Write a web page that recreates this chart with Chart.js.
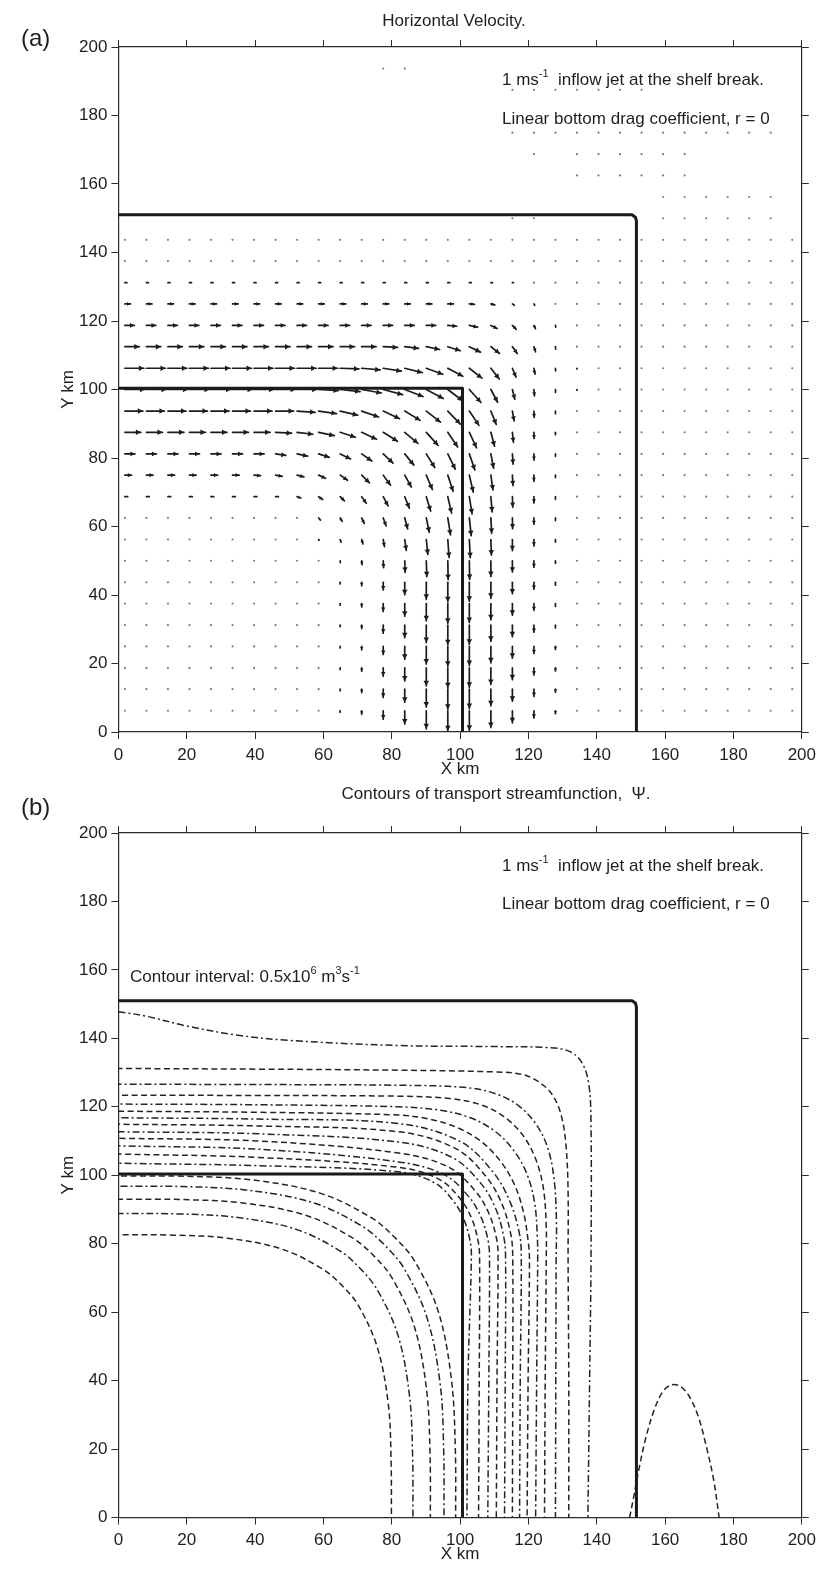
<!DOCTYPE html>
<html>
<head>
<meta charset="utf-8">
<title>Inflow jet at the shelf break</title>
<script src="https://cdn.jsdelivr.net/npm/chart.js@4.4.1/dist/chart.umd.min.js"></script>
<style>
  body { margin: 0; background: #fff; }
  canvas { position: absolute; left: 0; }
  #velChart { top: 0; }
  #psiChart { top: 785px; }
</style>
</head>
<body>
<canvas id="velChart" width="822" height="785"></canvas>
<canvas id="psiChart" width="822" height="785"></canvas>
<script>
const FONT = "'Liberation Sans', Arial, sans-serif";
const tickValues = [0, 20, 40, 60, 80, 100, 120, 140, 160, 180, 200];

// model grid (km)
const xKm = [1.9, 8.2, 14.5, 20.8, 27.1, 33.4, 39.7, 46.0, 52.3, 58.6, 64.9, 71.2, 77.5, 83.8, 90.1, 96.4,
             102.7, 109.0, 115.3, 121.6, 127.9, 134.2, 140.5, 146.8, 153.1, 159.4, 165.7, 172.0, 178.3, 184.6, 190.9, 197.2];
const yKm = [6.2, 12.5, 18.7, 25.0, 31.2, 37.5, 43.7, 50.0, 56.2, 62.5, 68.7, 75.0, 81.2, 87.5, 93.7, 100.0,
             106.2, 112.5, 118.7, 125.0, 131.2, 137.5, 143.7, 150.0, 156.2, 162.5, 168.7, 175.0, 181.2, 187.5, 193.7];

// speed (1 = jet core, ~1 m/s), one row per yKm, bottom first. -1 = nothing drawn, 0 = dot only
const speedRows = [
  [0,0,0,0,0,0,0,0,0,0,.08,.17,.42,.66,.9,1,.97,.83,.6,.36,.15,0,0,0,0,0,0,0,0,0,0,0],
  [0,0,0,0,0,0,0,0,0,0,.08,.17,.41,.65,.89,1,.97,.83,.6,.36,.15,0,0,0,0,0,0,0,0,0,0,0],
  [0,0,0,0,0,0,0,0,0,0,.08,.17,.41,.65,.89,.99,.96,.82,.59,.35,.15,0,0,0,0,0,0,0,0,0,0,0],
  [0,0,0,0,0,0,0,0,0,0,.08,.17,.4,.64,.88,.99,.96,.82,.59,.35,.15,0,0,0,0,0,0,0,0,0,0,0],
  [0,0,0,0,0,0,0,0,0,0,.08,.17,.4,.63,.87,.98,.95,.81,.58,.35,.14,0,0,0,0,0,0,0,0,0,0,0],
  [0,0,0,0,0,0,0,0,0,0,.08,.17,.39,.63,.86,.98,.95,.81,.58,.34,.14,0,0,0,0,0,0,0,0,0,0,0],
  [0,0,0,0,0,0,0,0,0,0,.08,.17,.38,.62,.85,.97,.94,.8,.57,.34,.14,0,0,0,0,0,0,0,0,0,0,0],
  [0,0,0,0,0,0,0,0,0,0,.1,.2,.35,.58,.8,.94,.93,.79,.56,.33,.13,0,0,0,0,0,0,0,0,0,0,0],
  [0,0,0,0,0,0,0,0,0,.05,.14,.23,.36,.55,.75,.9,.91,.78,.55,.32,.13,0,0,0,0,0,0,0,0,0,0,0],
  [0,0,0,0,0,0,0,0,0,.14,.2,.3,.42,.57,.73,.86,.89,.77,.54,.32,.13,0,0,0,0,0,0,0,0,0,0,0],
  [.14,.14,.14,.14,.14,.14,.14,.14,.2,.25,.3,.4,.52,.62,.75,.84,.87,.76,.53,.31,.13,0,0,0,0,0,0,0,0,0,0,0],
  [.33,.33,.33,.33,.33,.33,.33,.34,.35,.38,.45,.55,.62,.68,.78,.85,.87,.75,.52,.31,.12,0,0,0,0,0,0,0,0,0,0,0],
  [.5,.5,.5,.5,.5,.5,.5,.52,.54,.56,.58,.62,.67,.72,.8,.85,.85,.73,.51,.31,.12,0,0,0,0,0,0,0,0,0,0,0],
  [.8,.8,.8,.8,.8,.8,.8,.8,.8,.8,.8,.82,.84,.86,.88,.88,.85,.72,.5,.31,.12,0,0,0,0,0,0,0,0,0,0,0],
  [.9,.9,.9,.9,.9,.9,.9,.9,.9,.9,.9,.9,.9,.9,.9,.9,.86,.72,.5,.32,.13,0,0,0,0,0,0,0,0,0,0,0],
  [1,1,1,1,1,1,1,1,1,1,1,1,1,.98,.96,.93,.87,.72,.5,.32,.14,.04,0,0,0,0,0,0,0,0,0,0],
  [.95,.95,.95,.95,.95,.95,.95,.95,.95,.95,.94,.93,.92,.9,.88,.85,.8,.68,.48,.3,.13,.04,0,0,0,0,0,0,0,0,0,0],
  [.72,.72,.72,.72,.72,.72,.72,.72,.72,.72,.72,.72,.72,.7,.68,.66,.62,.55,.42,.27,.12,0,0,0,0,0,0,0,0,0,0,0],
  [.47,.47,.47,.47,.47,.47,.47,.47,.47,.47,.47,.47,.47,.47,.47,.45,.42,.35,.27,.18,.08,0,0,0,0,0,0,0,0,0,0,0],
  [.28,.28,.28,.28,.28,.28,.28,.28,.28,.28,.28,.28,.28,.28,.28,.28,.26,.2,.12,.08,0,0,0,0,0,0,0,0,0,0,0,0],
  [.1,.1,.1,.1,.1,.1,.1,.1,.1,.1,.1,.1,.1,.1,.1,.1,.1,.08,.05,0,0,0,0,0,0,0,0,0,0,0,0,0],
  [0,0,0,0,0,0,0,0,0,0,0,0,0,0,0,0,0,0,0,0,0,0,0,0,0,0,0,0,0,0,0,0],
  [0,0,0,0,0,0,0,0,0,0,0,0,0,0,0,0,0,0,0,0,0,0,0,0,0,0,0,0,0,0,0,0],
  [-1,-1,-1,-1,-1,-1,-1,-1,-1,-1,-1,-1,-1,-1,-1,-1,-1,-1,0,0,-1,-1,-1,-1,-1,0,0,0,0,0,0,-1],
  [-1,-1,-1,-1,-1,-1,-1,-1,-1,-1,-1,-1,-1,-1,-1,-1,-1,-1,-1,-1,-1,-1,-1,-1,-1,0,0,0,0,0,0,-1],
  [-1,-1,-1,-1,-1,-1,-1,-1,-1,-1,-1,-1,-1,-1,-1,-1,-1,-1,-1,-1,-1,0,0,0,0,0,0,-1,-1,-1,-1,-1],
  [-1,-1,-1,-1,-1,-1,-1,-1,-1,-1,-1,-1,-1,-1,-1,-1,-1,-1,-1,0,-1,0,0,0,0,0,0,-1,-1,-1,-1,-1],
  [-1,-1,-1,-1,-1,-1,-1,-1,-1,-1,-1,-1,-1,-1,-1,-1,-1,-1,0,0,0,0,0,0,0,0,0,0,0,0,0,-1],
  [-1,-1,-1,-1,-1,-1,-1,-1,-1,-1,-1,-1,-1,-1,-1,-1,-1,-1,-1,-1,-1,-1,-1,-1,-1,-1,-1,-1,-1,-1,-1,-1],
  [-1,-1,-1,-1,-1,-1,-1,-1,-1,-1,-1,-1,-1,-1,-1,-1,-1,-1,0,0,0,0,0,0,0,-1,-1,-1,-1,-1,-1,-1],
  [-1,-1,-1,-1,-1,-1,-1,-1,-1,-1,-1,-1,0,0,-1,-1,-1,-1,-1,-1,-1,-1,-1,-1,-1,-1,-1,-1,-1,-1,-1,-1]
];

// direction in degrees below east (90 = southward), bottom rows first; rows above 131 km are all eastward
const angleRows = [
  [0,0,0,0,0,0,0,0,0,0,90,90,90,90,90,90,90,90,90,90,90,0,0,0,0,0,0,0,0,0,0,0],
  [0,0,0,0,0,0,0,0,0,0,90,90,90,90,90,90,90,90,90,90,90,0,0,0,0,0,0,0,0,0,0,0],
  [0,0,0,0,0,0,0,0,0,0,90,90,90,90,90,90,90,90,90,90,90,0,0,0,0,0,0,0,0,0,0,0],
  [0,0,0,0,0,0,0,0,0,0,90,90,90,90,90,90,90,90,90,90,90,0,0,0,0,0,0,0,0,0,0,0],
  [0,0,0,0,0,0,0,0,0,0,90,90,90,90,90,90,90,90,90,90,90,0,0,0,0,0,0,0,0,0,0,0],
  [0,0,0,0,0,0,0,0,0,0,90,90,90,90,90,90,90,90,90,90,90,0,0,0,0,0,0,0,0,0,0,0],
  [0,0,0,0,0,0,0,0,0,0,90,90,90,90,90,90,90,90,90,90,90,0,0,0,0,0,0,0,0,0,0,0],
  [0,0,0,0,0,0,0,0,0,0,85,85,87,88,88,89,89,90,90,90,90,0,0,0,0,0,0,0,0,0,0,0],
  [0,0,0,0,0,0,0,0,0,60,70,75,80,82,84,86,87,88,90,90,90,0,0,0,0,0,0,0,0,0,0,0],
  [0,0,0,0,0,0,0,0,0,50,60,65,70,75,78,81,84,87,89,90,90,0,0,0,0,0,0,0,0,0,0,0],
  [0,0,0,0,0,0,0,0,20,35,45,55,62,68,73,77,81,85,88,90,90,0,0,0,0,0,0,0,0,0,0,0],
  [0,0,0,0,0,0,5,10,15,25,35,45,54,61,67,72,77,82,87,90,90,0,0,0,0,0,0,0,0,0,0,0],
  [0,0,0,0,0,0,0,8,12,18,26,35,43,51,58,64,71,79,86,89,90,0,0,0,0,0,0,0,0,0,0,0],
  [0,0,0,0,0,0,0,3,7,12,18,25,32,40,48,56,65,75,84,88,90,0,0,0,0,0,0,0,0,0,0,0],
  [0,0,0,0,0,0,0,0,4,8,13,19,25,31,38,46,56,68,80,87,90,0,0,0,0,0,0,0,0,0,0,0],
  [0,0,0,0,0,0,0,0,0,3,6,10,15,21,28,37,48,62,76,85,89,90,0,0,0,0,0,0,0,0,0,0],
  [0,0,0,0,0,0,0,0,0,0,2,5,9,14,20,28,38,52,68,80,87,90,0,0,0,0,0,0,0,0,0,0],
  [0,0,0,0,0,0,0,0,0,0,0,0,3,7,12,18,26,38,55,72,85,0,0,0,0,0,0,0,0,0,0,0],
  [0,0,0,0,0,0,0,0,0,0,0,0,0,0,0,5,12,25,45,65,80,0,0,0,0,0,0,0,0,0,0,0],
  [0,0,0,0,0,0,0,0,0,0,0,0,0,0,0,0,5,15,35,60,0,0,0,0,0,0,0,0,0,0,0,0]
];

const ARROW_KM = 5.85;   // km of arrow per unit speed

// shelf break (100 km) and outer shelf edge (151 km)
const shelfInner = [[0, 100.4], [100.7, 100.4], [100.7, 0]];
const shelfOuter = [[0, 151], [150.3, 151], [151.3, 150.3], [151.6, 149.2], [151.6, 0]];

// streamfunction contours, [x km, y km]
const psiLines = [
  [[0,147.8],[8,146.5],[20,143.6],[35,140.9],[50,139.4],[82,137.9],[110,137.6],[126,137.3],[132,136.2],[135.6,133],[137.6,127],[138.3,116],[138.3,75],[137.9,40],[137.4,0]],
  [[0,131.2],[41,131],[82,130.7],[110,130.2],[118,129.5],[123,127.3],[127,123.5],[129.6,117.5],[131,108.5],[131.6,95],[131.6,75],[131.8,40],[131.8,0]],
  [[0,126.6],[41,126.5],[82,126.3],[102,125.6],[111,123.6],[117.5,120],[122.5,114.5],[125.8,107.5],[127.6,98],[128.2,86],[128.1,75],[128,40],[127.9,0]],
  [[0,123.4],[41,123.3],[82,123.1],[97,122.4],[106,120.6],[113,117],[118.5,111.5],[122.2,104.5],[124.4,96],[125.2,85],[125.2,75],[124.9,40],[124.7,0]],
  [[0,120.8],[41,120.6],[82,120],[94,119],[103,116.8],[110,113],[115.5,107.5],[119.5,100.5],[121.8,92],[122.6,82],[122.7,75],[122.4,40],[122.1,0]],
  [[0,118.7],[41,118.4],[82,117.6],[91,116.4],[99,114],[106,110],[111.5,104.5],[115.8,97.5],[118.6,89],[120,80],[120.3,75],[119.9,40],[119.6,0]],
  [[0,116.8],[41,116.4],[82,115.1],[100,109.9],[109.5,101.1],[114.5,92.5],[117.4,82.8],[117.9,76],[117.6,40],[117.4,0]],
  [[0,114.9],[41,114.4],[82,112.7],[98.7,107.8],[107.6,99.6],[112.3,91.5],[114.9,82.4],[115.4,76],[115.4,40],[115.3,0]],
  [[0,112.7],[41,112.1],[82,109.7],[97.7,105.2],[106,97.7],[110.4,90.3],[112.8,81.9],[113.3,76],[113.2,40],[113,0]],
  [[0,110.8],[41,110],[82,106.5],[96.6,102.4],[104.3,95.6],[108.4,88.9],[110.7,81.3],[111.1,76],[110.8,40],[110.6,0]],
  [[0,108.6],[41,107.6],[82,103.9],[95.3,100.2],[102.4,93.9],[106.1,87.8],[108.2,80.9],[108.6,76],[108.4,40],[108.1,0]],
  [[0,106.2],[41,105.2],[82,102.3],[93.9,98.8],[100.2,92.9],[103.5,87.1],[105.3,80.6],[105.7,76],[105.6,40],[105.4,0]],
  [[0,103.5],[41,102.8],[82,101],[92.7,97.7],[98.3,92.1],[101.3,86.6],[103,80.4],[103.3,76],[102.3,40],[102,0]],
  [[0,99.8],[19.7,99.7],[39.5,98.6],[59.2,94.7],[74,87.6],[80.9,81.8],[86.7,74.9],[93.7,59.9],[97.5,39.9],[98.6,20],[98.7,0]],
  [[0,96.8],[19,96.7],[38.1,95.6],[57.2,91.9],[71.5,85],[78.1,79.4],[83.7,72.6],[90.4,58.1],[94.2,38.7],[95.2,19.4],[95.3,0]],
  [[0,93],[18.3,92.9],[36.5,91.9],[54.8,88.3],[68.5,81.7],[74.9,76.3],[80.2,69.8],[86.6,55.8],[90.2,37.2],[91.2,18.6],[91.3,0]],
  [[0,88.8],[17.2,88.7],[34.5,87.7],[51.7,84.3],[64.7,78],[70.7,72.8],[75.7,66.6],[81.8,53.3],[85.2,35.5],[86.1,17.8],[86.2,0]],
  [[0,82.6],[16,82.5],[32,81.6],[47.9,78.4],[59.9,72.5],[65.5,67.7],[70.2,62],[75.8,49.6],[79,33],[79.8,16.5],[79.9,0]]
];
const psiHump = [[149.6,0],[150.8,6],[152.3,14],[154.4,23.5],[157,32],[159.5,37],[162,38.8],[164.5,38.3],[167,35.5],[169.7,29.5],[172,21],[174.2,11],[175.8,0]];

Chart.defaults.font.family = FONT;
Chart.defaults.font.size = 17;
Chart.defaults.color = '#1e1e1e';

const toXY = pts => pts.map(([x, y]) => ({x, y}));

// build the vector field
const arrowPts = [], dotPts = [];
speedRows.forEach((row, j) => row.forEach((s, i) => {
    if (s < 0) return;
    if (s === 0) { dotPts.push({x: xKm[i], y: yKm[j]}); return; }
    const a = (angleRows[j] ? angleRows[j][i] : 0) * Math.PI / 180;
    arrowPts.push({x: xKm[i], y: yKm[j], u: s * Math.cos(a), v: -s * Math.sin(a)});
}));

function axisScale(position, labels, extra) {
    return Object.assign({
        type: 'linear', position, min: 0, max: 200,
        afterBuildTicks: s => { s.ticks = tickValues.map(v => ({value: v})); },
        grid: {drawOnChartArea: false, drawTicks: true, tickLength: 7, color: '#2b2b2b', lineWidth: 1},
        border: {display: true, color: '#2b2b2b', width: 1.2},
        ticks: {display: labels, padding: position === 'left' ? 4 : 6, color: '#1e1e1e', maxRotation: 0, autoSkip: false}
    }, extra);
}

function panelOptions(padTop, xHeight) {
    return {
        responsive: false, animation: false, devicePixelRatio: 1,
        layout: {padding: {top: padTop, left: 52, right: 0, bottom: 2}},
        plugins: {legend: {display: false}, tooltip: {enabled: false}},
        scales: {
            x: axisScale('bottom', true, {
                title: {display: true, text: 'X km', color: '#1e1e1e', padding: {top: 0, bottom: 3}},
                afterFit: s => { s.height = xHeight; }
            }),
            x2: axisScale('top', false, {afterFit: s => { s.height = 10; }}),
            y: axisScale('left', true, {
                title: {display: true, text: 'Y km', color: '#1e1e1e', padding: {top: 6, bottom: 0}},
                afterFit: s => { s.width = 66.4; }
            }),
            y2: axisScale('right', false, {afterFit: s => { s.width = 19; }})
        }
    };
}

function shelfSets() {
    return [shelfInner, shelfOuter].map(p => ({
        data: toXY(p), showLine: true, borderColor: '#1a1a1a', borderWidth: 3,
        pointRadius: 0, tension: 0, borderJoinStyle: 'round'
    }));
}

// free text, with simple superscripts
function textPlugin(items) {
    return {
        id: 'panelText',
        afterDraw(chart) {
            const ctx = chart.ctx;
            ctx.save();
            ctx.fillStyle = '#1e1e1e';
            ctx.textBaseline = 'middle';
            ctx.textAlign = 'left';
            items.forEach(item => {
                const size = item.size || 17;
                const segs = typeof item.text === 'string' ? [{t: item.text}] : item.text;
                const fontOf = s => (s.sup ? Math.round(size * 0.66) : size) + 'px ' + FONT;
                let w = 0;
                segs.forEach(s => { ctx.font = fontOf(s); w += ctx.measureText(s.t).width; });
                let x = item.align === 'center' ? item.x - w / 2 : item.x;
                segs.forEach(s => {
                    ctx.font = fontOf(s);
                    ctx.fillText(s.t, x, item.y - (s.sup ? size * 0.38 : 0));
                    x += ctx.measureText(s.t).width;
                });
            });
            ctx.restore();
        }
    };
}

const jetNote = [{t: '1 ms'}, {t: '-1', sup: true}, {t: '  inflow jet at the shelf break.'}];
const dragNote = 'Linear bottom drag coefficient, r = 0';

// quiver arrows drawn through the chart scales
const quiverPlugin = {
    id: 'quiver',
    afterDatasetsDraw(chart) {
        const {ctx, scales: {x, y}} = chart;
        ctx.save();
        ctx.strokeStyle = '#1c1c1c';
        ctx.fillStyle = '#1c1c1c';
        ctx.lineWidth = 1.7;
        ctx.lineCap = 'round';
        arrowPts.forEach(p => {
            const x0 = x.getPixelForValue(p.x), y0 = y.getPixelForValue(p.y);
            const x1 = x.getPixelForValue(p.x + p.u * ARROW_KM);
            const y1 = y.getPixelForValue(p.y + p.v * ARROW_KM);
            const dx = x1 - x0, dy = y1 - y0, len = Math.hypot(dx, dy);
            ctx.beginPath();
            ctx.moveTo(x0, y0);
            ctx.lineTo(x1, y1);
            ctx.stroke();
            if (len < 3) return;
            const h = Math.min(5, 0.25 * len + 2), w = h * 0.55;
            const ux = dx / len, uy = dy / len;
            ctx.beginPath();
            ctx.moveTo(x1, y1);
            ctx.lineTo(x1 - ux * h - uy * w, y1 - uy * h + ux * w);
            ctx.lineTo(x1 - ux * h + uy * w, y1 - uy * h - ux * w);
            ctx.closePath();
            ctx.fill();
        });
        ctx.restore();
    }
};

new Chart(document.getElementById('velChart'), {
    type: 'scatter',
    data: {
        datasets: [
            ...shelfSets(),
            {data: dotPts, pointRadius: 1.1, pointBackgroundColor: '#7d7d7d', pointBorderWidth: 0},
            {data: arrowPts, pointRadius: 0}
        ]
    },
    options: panelOptions(37, 51),
    plugins: [quiverPlugin, textPlugin([
        {x: 21, y: 39, text: '(a)', size: 24},
        {x: 454, y: 21, text: 'Horizontal Velocity.', align: 'center'},
        {x: 502, y: 80, text: jetNote},
        {x: 502, y: 119, text: dragNote}
    ])]
});

const dashStyles = [[6, 3.5], [7, 3, 2, 3]];
const psiSets = psiLines.map((line, k) => ({
    data: toXY(line), showLine: true, pointRadius: 0, tension: 0.35,
    borderColor: '#242424', borderWidth: 1.5,
    borderDash: dashStyles[(k + 1) % 2], borderDashOffset: k * 2
}));
psiSets.push({
    data: toXY(psiHump), showLine: true, pointRadius: 0, tension: 0.35,
    borderColor: '#242424', borderWidth: 1.5, borderDash: dashStyles[0]
});

new Chart(document.getElementById('psiChart'), {
    type: 'scatter',
    data: {datasets: [...shelfSets(), ...psiSets]},
    options: panelOptions(38, 50.5),
    plugins: [textPlugin([
        {x: 21, y: 23, text: '(b)', size: 24},
        {x: 496, y: 9, text: 'Contours of transport streamfunction,  \u03A8.', align: 'center'},
        {x: 502, y: 81, text: jetNote},
        {x: 502, y: 119, text: dragNote},
        {x: 130, y: 192, text: [{t: 'Contour interval: 0.5x10'}, {t: '6', sup: true}, {t: ' m'}, {t: '3', sup: true},
                                 {t: 's'}, {t: '-1', sup: true}]}
    ])]
});
</script>
</body>
</html>
